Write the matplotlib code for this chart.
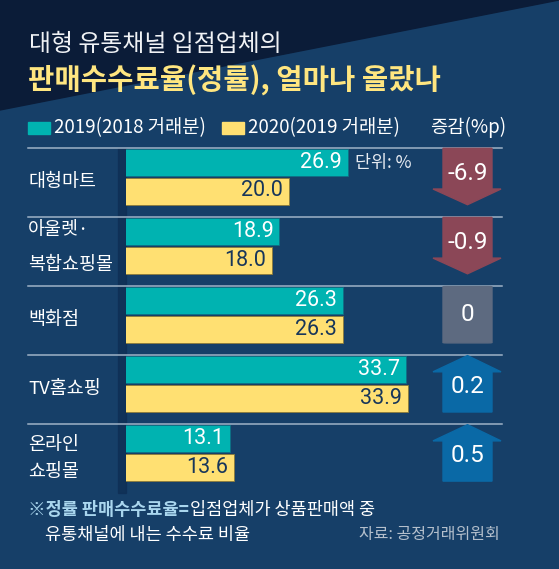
import numpy as np
import matplotlib.pyplot as plt
import matplotlib.transforms as mtransforms
from matplotlib.patches import Polygon, Rectangle, FancyBboxPatch

plt.rcParams['font.family'] = ['Noto Sans CJK KR', 'DejaVu Sans']

# data
categories = ['대형마트', '아울렛·\n복합쇼핑몰', '백화점', 'TV홈쇼핑', '온라인\n쇼핑몰']
rate_2019 = [26.9, 18.9, 26.3, 33.7, 13.1]
rate_2020 = [20.0, 18.0, 26.3, 33.9, 13.6]
change = [-6.9, -0.9, 0, 0.2, 0.5]
change_labels = ['-6.9', '-0.9', '0', '0.2', '0.5']
legend_labels = ['2019(2018 거래분)', '2020(2019 거래분)']

bg_dark = '#0b1c38'
bg_main = '#163f68'
teal = '#00b3b1'
yellow = '#ffe072'
navy_txt = '#17365a'
down_col = '#8b4757'
up_col = '#0a69a6'
zero_col = '#5d6a80'
line_col = '#9fb2c6'

W, H = 559, 569
fig = plt.figure(figsize=(W / 100, H / 100), dpi=100)

# background axes in pixel coordinates
bg = fig.add_axes([0, 0, 1, 1])
bg.set_xlim(0, W)
bg.set_ylim(H, 0)
bg.axis('off')
bg.add_patch(Rectangle((0, 0), W, H, color=bg_main, zorder=0))
bg.add_patch(Polygon([(0, 0), (W, 0), (0, 110)], closed=True, color=bg_dark, zorder=0))

# titles
bg.text(29, 44, '대형 유통채널 입점업체의', color='#f0f2f5', fontsize=17.2,
        fontweight='light', va='center', ha='left')
bg.text(28, 80, '판매수수료율(정률), 얼마나 올랐나', color='#ffe680', fontsize=20.6,
        fontweight='bold', va='center', ha='left')

# legend
bg.add_patch(Rectangle((28, 122), 22, 12, color=teal))
bg.text(54, 127.5, legend_labels[0], color='white', fontsize=13.5, va='center', ha='left')
bg.add_patch(Rectangle((222, 122), 22, 12, color=yellow))
bg.text(248, 127.5, legend_labels[1], color='white', fontsize=13.5, va='center', ha='left')
bg.text(506, 127.5, '증감(%p)', color='white', fontsize=13.5, va='center', ha='right')

# bar axes: group units vertically
pitch = 69.1
c0 = 176.5
top_px, bot_px = 140, 500
x_org, px_per = 117.5, 8.57
left_px, right_px = 126, 420
ylim = ((bot_px - c0) / pitch, (top_px - c0) / pitch)

ax = fig.add_axes([left_px / W, 1 - bot_px / H, (right_px - left_px) / W, (bot_px - top_px) / H])
ax.set_xlim((left_px - x_org) / px_per, (right_px - x_org) / px_per)
ax.set_ylim(*ylim)
ax.axis('off')
ax.patch.set_alpha(0)

y = np.arange(len(categories))
off = 14.5 / pitch
bh = 27 / pitch
ax.barh(y - off, rate_2019, height=bh, left=0, color=teal, edgecolor='#0e6f84', linewidth=0.6, zorder=3)
ax.barh(y + off, rate_2020, height=bh, left=0, color=yellow, edgecolor='#8a7a3a', linewidth=0.6, zorder=3)
for i in range(len(categories)):
    ax.text(rate_2019[i] - 0.7, y[i] - off, f'{rate_2019[i]:.1f}', color='white', fontsize=15.5,
            family='Roboto', ha='right', va='center', zorder=4)
    ax.text(rate_2020[i] - 0.7, y[i] + off, f'{rate_2020[i]:.1f}', color=navy_txt, fontsize=15.5,
            family='Roboto', ha='right', va='center', zorder=4)
ax.text(rate_2019[0] + 0.8, y[0] - off + 0.01, '단위: %', color='#e8ecf2', fontsize=12.5,
        ha='left', va='center')

# blended: x pixel, y group units
blend = mtransforms.blended_transform_factory(bg.transData, ax.transData)

# shadow strip left of bars
bg.add_patch(Rectangle((118, 148), 8, 345, color='#0f2f55', alpha=0.8, zorder=1))

# separator lines and labels
line_gap = {1: (-15.5, 19.5), 4: (-7.5, 19.5)}
for i, cat in enumerate(categories):
    yl = y[i] - 28.5 / pitch
    bg.plot([28, 502], [yl, yl], color=line_col, lw=1.1, transform=blend, zorder=2)
    parts = cat.split('\n')
    if len(parts) == 1:
        bg.text(28, y[i] + 5 / pitch, cat, color='white', fontsize=13.3, ha='left', va='center',
                transform=blend)
    else:
        for part, d in zip(parts, line_gap[i]):
            bg.text(28, y[i] + d / pitch, part, color='white', fontsize=13.3, ha='left',
                    va='center', transform=blend)

# change column
ch = fig.add_axes([417.5 / W, 1 - bot_px / H, 100 / W, (bot_px - top_px) / H])
ch.set_xlim(0, 1)
ch.set_ylim(*ylim)
ch.axis('off')
ch.patch.set_alpha(0)
t = 28.2 / pitch
hb = 12.5 / pitch
for i, v in enumerate(change):
    yc = y[i]
    if v < 0:
        pts = [(0.255, yc - t), (0.745, yc - t), (0.745, yc + hb), (0.835, yc + hb),
               (0.5, yc + t), (0.155, yc + hb), (0.255, yc + hb)]
        ch.add_patch(Polygon(pts, closed=True, color=down_col))
        ty = yc - 3.5 / pitch
    elif v > 0:
        hb2 = 12 / pitch
        pts = [(0.5, yc - t), (0.835, yc - hb2), (0.745, yc - hb2), (0.745, yc + t),
               (0.255, yc + t), (0.255, yc - hb2), (0.155, yc - hb2)]
        ch.add_patch(Polygon(pts, closed=True, color=up_col))
        ty = yc + 3 / pitch
    else:
        ch.add_patch(FancyBboxPatch((0.255, yc - t), 0.49, 2 * t,
                                    boxstyle='round,pad=0,rounding_size=0.04',
                                    mutation_aspect=1 / 0.7 * 0.1,
                                    color=zero_col))
        ty = yc
    ch.text(0.5, ty, change_labels[i], color='white', fontsize=17.5, family='Roboto',
            ha='center', va='center')

# footnote
fn1 = bg.text(28, 510, '※정률 판매수수료율=', color='#a9d6ee', fontsize=12.6, fontweight='bold',
              ha='left', va='center')
fig.canvas.draw()
bb = fn1.get_window_extent().transformed(bg.transData.inverted())
bg.text(bb.x1 + 1, 510, '입점업체가 상품판매액 중', color='white', fontsize=12.6,
        ha='left', va='center')
bg.text(45, 535, '유통채널에 내는 수수료 비율', color='white', fontsize=12.6,
        ha='left', va='center')
bg.text(500, 535, '자료: 공정거래위원회', color='#b4bfcc', fontsize=11.5,
        ha='right', va='center')

fig.savefig('out.png', dpi=100)
